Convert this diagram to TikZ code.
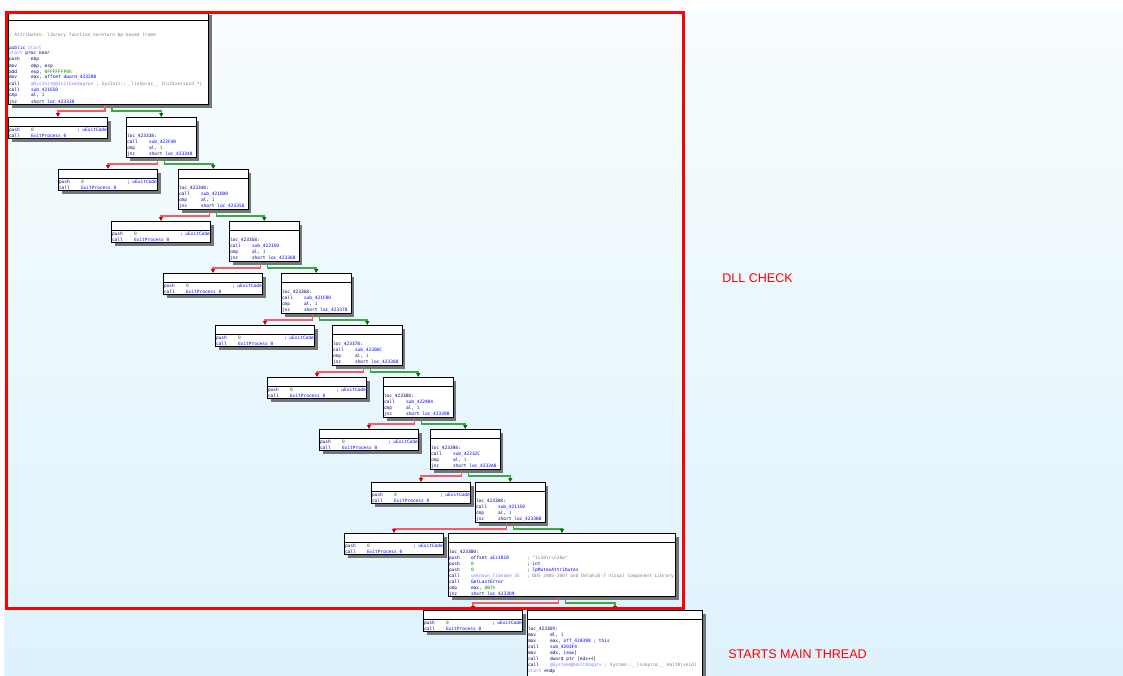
\documentclass[tikz,border=0pt]{standalone}
\usepackage{fontspec}
\setmonofont{DejaVu Sans Mono}
\newfontfamily\lblfont{Liberation Sans}
\usetikzlibrary{arrows.meta,shadows}

\definecolor{idanavy}{RGB}{0,0,128}
\definecolor{idablue}{RGB}{0,0,255}
\definecolor{idagreen}{RGB}{0,128,0}
\definecolor{idagray}{RGB}{128,128,128}
\definecolor{idalib}{RGB}{128,128,255}
\definecolor{bgtop}{RGB}{248,253,254}
\definecolor{bgbot}{RGB}{222,242,252}
\definecolor{jred}{RGB}{240,96,96}
\definecolor{jgreen}{RGB}{64,168,64}

\newlength\pxd \setlength\pxd{0.7pt}
\newcommand\codefont{\ttfamily\fontsize{3.16pt}{4.2pt}\selectfont\color{idanavy}}
\newcommand\code[3]{\parbox[t][#2\pxd][t]{#1\pxd}{\codefont#3}}
\newcommand\hdr{\rule{0pt}{13.5\pxd}}
\newcommand\ins[2]{\makebox[22\pxd][l]{#1}#2}
\newcommand\col[2]{\makebox[#1\pxd][l]{#2}}
\newcommand\nm[1]{\textcolor{idablue}{#1}}
\newcommand\nb[1]{\textcolor{idagreen}{#1}}
\newcommand\cm[1]{\textcolor{idagray}{#1}}
\newcommand\lb[1]{\textcolor{idalib}{#1}}
\newcommand\exitcode{\code{98}{21}{\hdr\ins{push}{\col{46}{\nb{0}}\nm{; uExitCode}}\\
\ins{call}{\nm{ExitProcess\_0}}}}
\newcommand\chkcode[3]{\code{68.5}{40}{\hdr\\
loc\_#1:\\
\ins{call}{\nm{sub\_#2}}\\
\ins{cmp}{al, \nb{1}}\\
\ins{jnz}{short \nm{loc\_#3}}}}

\tikzset{
  blk/.style={draw, fill=white, line width=0.7pt, inner xsep=0.35pt, inner ysep=0pt, anchor=north west,
    drop shadow={shadow xshift=2.1pt, shadow yshift=-2.1pt, opacity=0.7, fill=black!75},
    path picture={\draw[line width=0.6pt] ([yshift=-6.3pt]path picture bounding box.north west) -- ([yshift=-6.3pt]path picture bounding box.north east);}},
  fedge/.style={jred, line width=1pt, -{Triangle[length=2.8pt,width=2.8pt,color=red!75!black]}},
  tedge/.style={jgreen, line width=1pt, -{Triangle[length=2.8pt,width=2.8pt,color=green!40!black]}},
  lbl/.style={anchor=west, inner sep=0pt, text=red, font=\lblfont\fontsize{8.8pt}{10pt}\selectfont}
}

\begin{document}
\begin{tikzpicture}[x=0.7pt, y=0.7pt]
\useasboundingbox (0,0) rectangle (1123,-676);
\fill[white] (0,0) rectangle (1123,-676);
\shade[top color=bgtop, bottom color=bgbot] (4,-10) rectangle (1123,-676);

\node[blk] (b0) at (8,-11) {\code{199}{93}{\hdr\\[6\pxd]
\cm{; Attributes: library function noreturn bp-based frame}\\[6\pxd]
\nm{public} \lb{start}\\
\lb{start} proc near\\
\ins{push}{ebp}\\
\ins{mov}{ebp, esp}\\
\ins{add}{esp, \nb{0FFFFFFF0h}}\\
\ins{mov}{eax, offset \nm{dword\_423200}}\\
\ins{call}{\lb{@SysInit@@InitExe\$qqrpv} \cm{; SysInit::\_\_linkproc\_\_ InitExe(void *)}}\\
\ins{call}{\nm{sub\_421E50}}\\
\ins{cmp}{al, \nb{1}}\\
\ins{jnz}{short \nm{loc\_423338}}}};

\node[blk] (x1) at (8,-117) {\exitcode};
\node[blk] (c1) at (126,-117) {\chkcode{423338}{422F40}{423348}};
\node[blk] (x2) at (58,-169) {\exitcode};
\node[blk] (c2) at (178,-169) {\chkcode{423348}{421DD0}{423358}};
\node[blk] (x3) at (111,-221) {\exitcode};
\node[blk] (c3) at (229,-221) {\chkcode{423358}{422150}{423368}};
\node[blk] (x4) at (163,-273) {\exitcode};
\node[blk] (c4) at (281,-273) {\chkcode{423368}{421F00}{423378}};
\node[blk] (x5) at (215,-325) {\exitcode};
\node[blk] (c5) at (332,-325) {\chkcode{423378}{4230AC}{423388}};
\node[blk] (x6) at (267,-377) {\exitcode};
\node[blk] (c6) at (383,-377) {\chkcode{423388}{422404}{423398}};
\node[blk] (x7) at (319,-429) {\exitcode};
\node[blk] (c7) at (430,-429) {\chkcode{423398}{42232C}{4233A8}};
\node[blk] (x8) at (371,-482) {\exitcode};
\node[blk] (c8) at (475,-482) {\chkcode{4233A8}{421150}{4233B0}};
\node[blk] (x9) at (344,-533) {\exitcode};

\node[blk] (b9) at (448,-533) {\code{226}{63}{\hdr\\
loc\_4233B0:\\
\ins{push}{\col{56}{offset \nm{aIz1010}}\cm{; "1z10\textbackslash r\textbackslash n10w"}}\\
\ins{push}{\col{56}{\nb{0}}\nm{; int}}\\
\ins{push}{\col{56}{\nb{0}}\nm{; lpMutexAttributes}}\\
\ins{call}{\col{56}{\lb{unknown\_libname\_35}}\cm{; BDS 2005-2007 and Delphi6-7 Visual Component Library}}\\
\ins{call}{\nm{GetLastError}}\\
\ins{cmp}{eax, \nb{0B7h}}\\
\ins{jnz}{short \nm{loc\_4233D9}}}};

\node[blk] (x10) at (423,-610) {\exitcode};
\node[blk] (b10) at (527,-610) {\code{174}{70}{\hdr\\
loc\_4233D9:\\
\ins{mov}{dl, \nb{1}}\\
\ins{mov}{eax, \nm{off\_420398} \nm{; this}}\\
\ins{call}{\nm{sub\_4203F4}}\\
\ins{mov}{edx, [eax]}\\
\ins{call}{dword ptr [edx+\nb{4}]}\\
\ins{call}{\lb{@System@@Halt0\$qqrv} \cm{; System::\_\_linkproc\_\_ Halt0(void)}}\\
\lb{start} endp}};

\draw[fedge] ([xshift=-2.45pt]b0.south) -- ++(0,-6) -| (x1.north);
\draw[tedge] ([xshift=2.45pt]b0.south) -- ++(0,-6) -| (c1.north);
\draw[fedge] ([xshift=-2.45pt]c1.south) -- ++(0,-6) -| (x2.north);
\draw[tedge] ([xshift=2.45pt]c1.south) -- ++(0,-6) -| (c2.north);
\draw[fedge] ([xshift=-2.45pt]c2.south) -- ++(0,-6) -| (x3.north);
\draw[tedge] ([xshift=2.45pt]c2.south) -- ++(0,-6) -| (c3.north);
\draw[fedge] ([xshift=-2.45pt]c3.south) -- ++(0,-6) -| (x4.north);
\draw[tedge] ([xshift=2.45pt]c3.south) -- ++(0,-6) -| (c4.north);
\draw[fedge] ([xshift=-2.45pt]c4.south) -- ++(0,-6) -| (x5.north);
\draw[tedge] ([xshift=2.45pt]c4.south) -- ++(0,-6) -| (c5.north);
\draw[fedge] ([xshift=-2.45pt]c5.south) -- ++(0,-6) -| (x6.north);
\draw[tedge] ([xshift=2.45pt]c5.south) -- ++(0,-6) -| (c6.north);
\draw[fedge] ([xshift=-2.45pt]c6.south) -- ++(0,-6) -| (x7.north);
\draw[tedge] ([xshift=2.45pt]c6.south) -- ++(0,-6) -| (c7.north);
\draw[fedge] ([xshift=-2.45pt]c7.south) -- ++(0,-6) -| (x8.north);
\draw[tedge] ([xshift=2.45pt]c7.south) -- ++(0,-6) -| (c8.north);
\draw[fedge] ([xshift=-2.45pt]c8.south) -- ++(0,-6) -| (x9.north);
\draw[tedge] ([xshift=2.45pt]c8.south) -- ++(0,-6) -| (b9.north);
\draw[fedge] ([xshift=-2.45pt]b9.south) -- ++(0,-6) -| (x10.north);
\draw[tedge] ([xshift=2.45pt]b9.south) -- ++(0,-6) -| (b10.north);

\draw[red, line width=2.1pt] (6.5,-12) rectangle (683,-608.5);

\node[lbl] (dll) at (722,-278) {DLL CHECK};
\node[lbl] (mainthr) at (728,-654) {STARTS MAIN THREAD};
\end{tikzpicture}
\end{document}
